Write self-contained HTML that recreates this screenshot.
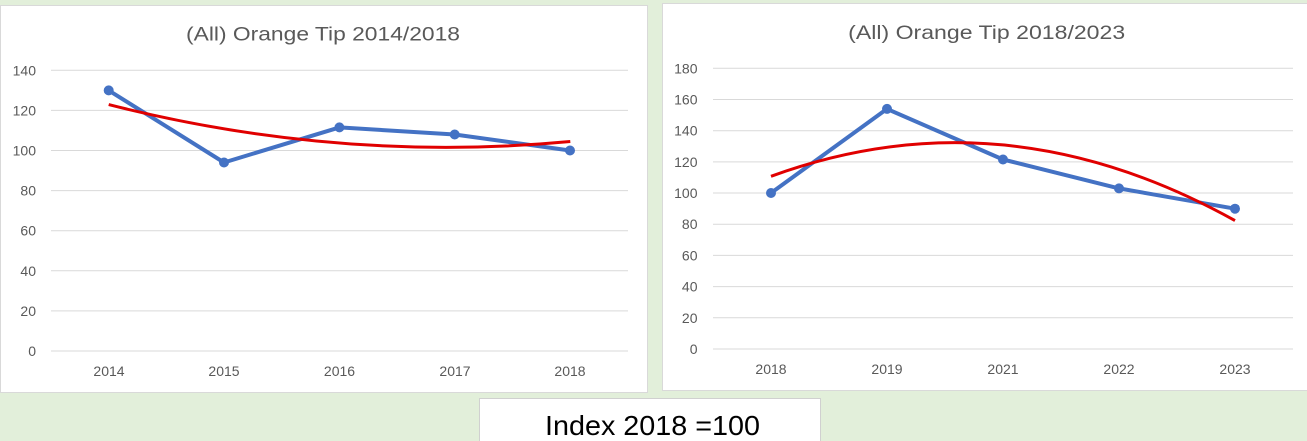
<!DOCTYPE html>
<html>
<head>
<meta charset="utf-8">
<style>
html,body{margin:0;padding:0;}
body{width:1307px;height:441px;overflow:hidden;background:#e2efda;}
svg{display:block;}
</style>
</head>
<body>
<svg width="1307" height="441" viewBox="0 0 1307 441" xmlns="http://www.w3.org/2000/svg" font-family="Liberation Sans, sans-serif">
  <rect x="0" y="0" width="1307" height="441" fill="#e2efda"/>
  <!-- Left panel -->
  <rect x="0.5" y="5.5" width="647" height="387" fill="#ffffff" stroke="#d9d9d9" stroke-width="1"/>
  <!-- Right panel -->
  <rect x="662.5" y="3.5" width="646" height="387" fill="#ffffff" stroke="#d9d9d9" stroke-width="1"/>
  <!-- Bottom box -->
  <rect x="479.5" y="398.5" width="341" height="50" fill="#ffffff" stroke="#d0d0d0" stroke-width="1"/>
  <text x="545" y="435" font-size="28" fill="#000000" textLength="215" lengthAdjust="spacingAndGlyphs">Index 2018 =100</text>

  <!-- LEFT CHART -->
  <text x="323" y="40.5" font-size="19.5" fill="#595959" text-anchor="middle" textLength="274" lengthAdjust="spacingAndGlyphs">(All) Orange Tip 2014/2018</text>
  <g stroke="#d9d9d9" stroke-width="1">
    <line x1="51" y1="351" x2="628" y2="351"/>
    <line x1="51" y1="310.9" x2="628" y2="310.9"/>
    <line x1="51" y1="270.8" x2="628" y2="270.8"/>
    <line x1="51" y1="230.7" x2="628" y2="230.7"/>
    <line x1="51" y1="190.6" x2="628" y2="190.6"/>
    <line x1="51" y1="150.5" x2="628" y2="150.5"/>
    <line x1="51" y1="110.4" x2="628" y2="110.4"/>
    <line x1="51" y1="70.3" x2="628" y2="70.3"/>
  </g>
  <g font-size="14" fill="#595959" text-anchor="end">
    <text x="36" y="356">0</text>
    <text x="36" y="315.9">20</text>
    <text x="36" y="275.8">40</text>
    <text x="36" y="235.7">60</text>
    <text x="36" y="195.6">80</text>
    <text x="36" y="155.5">100</text>
    <text x="36" y="115.4">120</text>
    <text x="36" y="75.3">140</text>
  </g>
  <g font-size="14" fill="#595959" text-anchor="middle">
    <text x="109" y="376">2014</text>
    <text x="224" y="376">2015</text>
    <text x="339.5" y="376">2016</text>
    <text x="455" y="376">2017</text>
    <text x="570" y="376">2018</text>
  </g>
  <polyline points="108.7,90.4 224,162.5 339.4,127.4 454.7,134.5 570,150.5" fill="none" stroke="#4472c4" stroke-width="4" stroke-linejoin="round" stroke-linecap="round"/>
  <g fill="#4472c4">
    <circle cx="108.7" cy="90.4" r="5"/>
    <circle cx="224" cy="162.5" r="5"/>
    <circle cx="339.4" cy="127.4" r="5"/>
    <circle cx="454.7" cy="134.5" r="5"/>
    <circle cx="570" cy="150.5" r="5"/>
  </g>
  <path d="M108.7,104.6 Q339.5,163.1 570.3,141.5" fill="none" stroke="#e00000" stroke-width="3"/>

  <!-- RIGHT CHART -->
  <text x="986.7" y="39" font-size="19.5" fill="#595959" text-anchor="middle" textLength="277" lengthAdjust="spacingAndGlyphs">(All) Orange Tip 2018/2023</text>
  <g stroke="#d9d9d9" stroke-width="1">
    <line x1="713" y1="349" x2="1293" y2="349"/>
    <line x1="713" y1="317.8" x2="1293" y2="317.8"/>
    <line x1="713" y1="286.6" x2="1293" y2="286.6"/>
    <line x1="713" y1="255.4" x2="1293" y2="255.4"/>
    <line x1="713" y1="224.2" x2="1293" y2="224.2"/>
    <line x1="713" y1="193" x2="1293" y2="193"/>
    <line x1="713" y1="161.9" x2="1293" y2="161.9"/>
    <line x1="713" y1="130.7" x2="1293" y2="130.7"/>
    <line x1="713" y1="99.5" x2="1293" y2="99.5"/>
    <line x1="713" y1="68.3" x2="1293" y2="68.3"/>
  </g>
  <g font-size="14" fill="#595959" text-anchor="end">
    <text x="697.5" y="354">0</text>
    <text x="697.5" y="322.8">20</text>
    <text x="697.5" y="291.6">40</text>
    <text x="697.5" y="260.4">60</text>
    <text x="697.5" y="229.2">80</text>
    <text x="697.5" y="198">100</text>
    <text x="697.5" y="166.9">120</text>
    <text x="697.5" y="135.7">140</text>
    <text x="697.5" y="104.5">160</text>
    <text x="697.5" y="73.3">180</text>
  </g>
  <g font-size="14" fill="#595959" text-anchor="middle">
    <text x="771" y="374">2018</text>
    <text x="887" y="374">2019</text>
    <text x="1003" y="374">2021</text>
    <text x="1119" y="374">2022</text>
    <text x="1235" y="374">2023</text>
  </g>
  <polyline points="771,193 887,108.9 1003,159.5 1119,188.4 1235,208.7" fill="none" stroke="#4472c4" stroke-width="4" stroke-linejoin="round" stroke-linecap="round"/>
  <g fill="#4472c4">
    <circle cx="771" cy="193" r="5"/>
    <circle cx="887" cy="108.9" r="5"/>
    <circle cx="1003" cy="159.5" r="5"/>
    <circle cx="1119" cy="188.4" r="5"/>
    <circle cx="1235" cy="208.7" r="5"/>
  </g>
  <path d="M771,176.3 Q1003,91.5 1235,220.6" fill="none" stroke="#e00000" stroke-width="3"/>
</svg>
</body>
</html>
